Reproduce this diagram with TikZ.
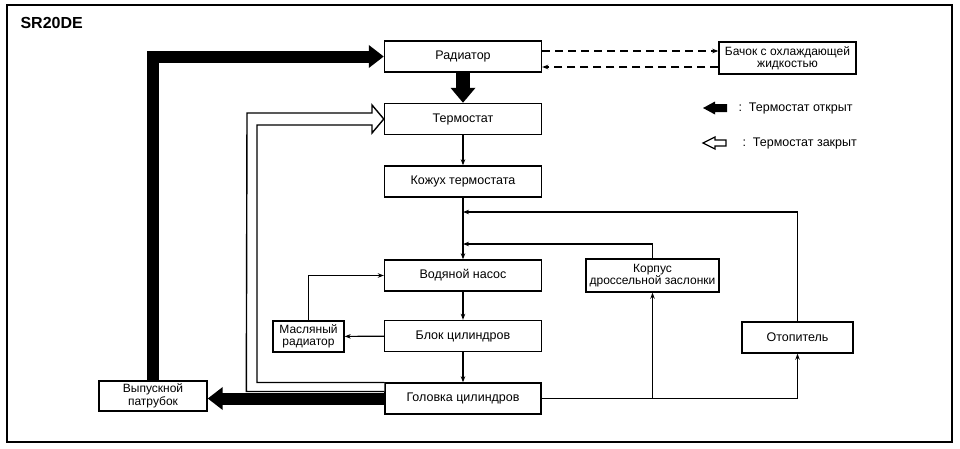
\documentclass[tikz,border=0pt]{standalone}
\usepackage{fontspec}
\setmainfont{Liberation Sans}
\usetikzlibrary{arrows.meta,calc}
\begin{document}
\begin{tikzpicture}[x=1pt,y=-1pt,
 box/.style={draw, line width=1.4pt, minimum height=31pt, inner sep=1pt, font=\fontsize{12.5}{13}\selectfont, align=center},
 twoline/.style={font=\fontsize{12}{12.5}\selectfont},
 lnk/.style={line width=1.2pt, -{Stealth[length=6pt,width=4.5pt]}},
 fat/.style={line width=12pt, line join=miter, -{Triangle[length=15pt,width=22pt]}},
 dsh/.style={line width=1.4pt, dash pattern=on 8pt off 5pt, -{Stealth[length=6pt,width=4.5pt]}},
 hollow/.style={line width=1.4pt, line join=miter, fill=white},
 legtext/.style={anchor=west, font=\fontsize{12.5}{13}\selectfont}
]
\path[fill=white] (0,0) rectangle (960,448);
\useasboundingbox (0,0) rectangle (960,448);
\draw[line width=1.6pt] (7,5) rectangle (952,442);
\node[anchor=west, font=\fontsize{16}{16}\selectfont\bfseries] (title) at (17,23) {SR20DE};

\node[box, minimum width=157pt] (rad) at (463,56.5) {Радиатор};
\node[box, minimum width=157pt] (term) at (463,119) {Термостат};
\node[box, minimum width=157pt] (kozh) at (463,181.5) {Кожух термостата};
\node[box, minimum width=157pt] (nasos) at (463,275.5) {Водяной насос};
\node[box, minimum width=157pt] (blok) at (463,336) {Блок цилиндров};
\node[box, minimum width=156pt] (golov) at (463,398.5) {Головка цилиндров};
\node[box, twoline, minimum width=137pt, minimum height=32pt] (bach) at (787.5,58) {Бачок с охлаждающей\\жидкостью};
\node[box, twoline, minimum width=133pt, minimum height=33pt] (korp) at (652.5,275.5) {Корпус\\дроссельной заслонки};
\node[box, minimum width=111pt] (otop) at (797.5,337.5) {Отопитель};
\node[box, twoline, minimum width=71pt] (masl) at (308.5,336.5) {Масляный\\радиатор};
\node[box, twoline, minimum width=108pt, minimum height=30pt] (vyp) at (153,396) {Выпускной\\патрубок};

% main thin flow
\draw[lnk] (term) -- (kozh);
\draw[lnk] (kozh) -- (nasos);
\draw[lnk] (nasos) -- (blok);
\draw[lnk] (blok) -- (golov);
\draw[lnk] (blok) -- (masl);
\draw[lnk] (masl.north) |- (nasos.west);
\coordinate (m1) at (463,212);
\coordinate (m2) at (463,244);
\draw[lnk] (golov.east) -| (otop.south);
\draw[lnk] (golov.east -| korp.south) -- (korp.south);
\draw[lnk] (korp.north) |- (m2);
\draw[lnk] (otop.north) |- (m1);

% dashed to reservoir
\coordinate (d1) at ($(rad.east)+(0,-5.5)$);
\coordinate (d2) at ($(rad.east)+(0,10.5)$);
\draw[dsh] (d1) -- (d1 -| bach.west);
\draw[dsh] (d2 -| bach.west) -- (d2);

% thick black (thermostat open)
\draw[fat] (golov.west) -- (golov.west -| vyp.east);
\draw[fat] (vyp.north) |- (rad.west);
\draw[fat, line width=14pt, -{Triangle[length=15pt,width=24pt]}] (rad.south) -- (term.north);

% hollow (thermostat closed)
\coordinate (h0) at ($(golov.west)+(0,-7)$);
\coordinate (h9) at ($(golov.west)+(0,-16)$);
\draw[hollow] (h0) -- ++(-138,0) -- (247,113) -- (372,113) -- (372,105) -- (term.west)
  -- (372,133) -- (372,125) -- (257,125) -- (257,382.5) -- (h9);

% legend
\fill (703,108) -- (715,101.5) -- (715,104) -- (727,104) -- (727,112) -- (715,112) -- (715,114.5) -- cycle;
\draw[line width=1.3pt, line join=miter] (703,143) -- (715,137) -- (715,140) -- (726,140) -- (726,146) -- (715,146) -- (715,149) -- cycle;
\node[legtext] (leg1) at (735,108) {:\ \ Термостат открыт};
\node[legtext] (leg2) at (739,143) {:\ \ Термостат закрыт};
\end{tikzpicture}
\end{document}
